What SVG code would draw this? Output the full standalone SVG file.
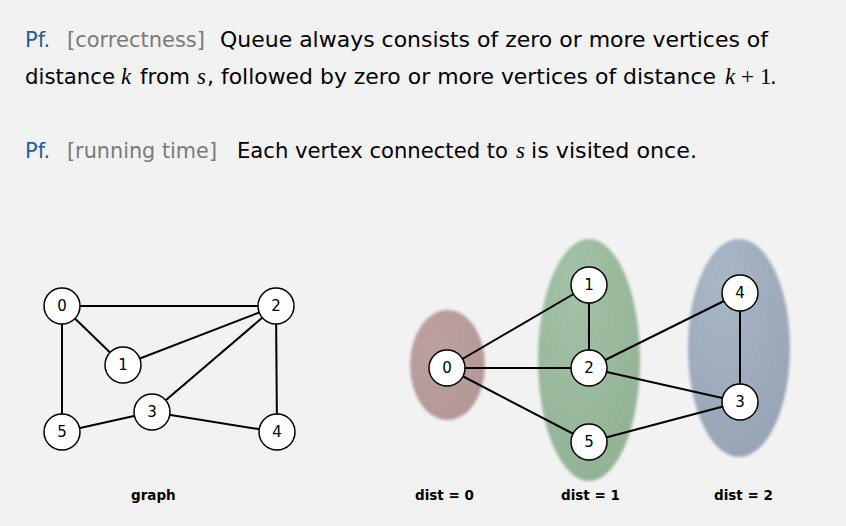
<svg xmlns="http://www.w3.org/2000/svg" width="846" height="526" viewBox="0 0 846 526">
<style>
.t{font-family:"DejaVu Sans","Noto Sans",sans-serif;font-size:21px;fill:#000}
.pf{fill:#1d5e9e}
.br{fill:#7a7a7a}
.m{font-family:"Liberation Serif","DejaVu Serif",serif;font-style:italic;font-size:23px;fill:#000}
.mr{font-family:"Liberation Serif","DejaVu Serif",serif;font-size:23px;fill:#000}
.e{stroke:#000;stroke-width:2;fill:none}
.n circle{fill:#fff;stroke:#000;stroke-width:1.5}
.n text{font-family:"DejaVu Sans",sans-serif;font-size:15px;text-anchor:middle;fill:#000}
.cap{font-family:"DejaVu Sans",sans-serif;font-weight:bold;font-size:13.5px;fill:#000}
</style>
<defs>
<filter id="soft" x="-20%" y="-20%" width="140%" height="140%"><feGaussianBlur stdDeviation="1.5"/></filter>
<radialGradient id="gb" cx="35%" cy="30%" r="75%"><stop offset="0" stop-color="#bda1a1"/><stop offset="1" stop-color="#b49797"/></radialGradient>
<radialGradient id="gg" cx="35%" cy="20%" r="80%"><stop offset="0" stop-color="#a2c1a6"/><stop offset="1" stop-color="#93b397"/></radialGradient>
<radialGradient id="gl" cx="35%" cy="20%" r="80%"><stop offset="0" stop-color="#a8b6c6"/><stop offset="1" stop-color="#97a5b7"/></radialGradient>
</defs>
<rect width="846" height="526" fill="#f2f2f2"/>

<g id="text">
<text class="t pf" x="25" y="47">Pf.</text>
<text class="t br" x="67" y="47" textLength="138" lengthAdjust="spacingAndGlyphs">[correctness]</text>
<text class="t" x="220" y="47" textLength="548" lengthAdjust="spacingAndGlyphs">Queue always consists of zero or more vertices of</text>
<text class="t" x="25" y="84" textLength="90" lengthAdjust="spacingAndGlyphs">distance</text>
<text class="m" x="121" y="84">k</text>
<text class="t" x="140" y="84" textLength="50" lengthAdjust="spacingAndGlyphs">from</text>
<text class="m" x="197" y="84">s</text>
<text class="t" x="207" y="84" textLength="509" lengthAdjust="spacingAndGlyphs">, followed by zero or more vertices of distance</text>
<text class="m" x="725" y="84">k</text>
<text class="mr" x="741" y="84">+</text>
<text class="mr" x="760" y="84">1</text>
<text class="t" x="770" y="84">.</text>
<text class="t pf" x="25" y="158">Pf.</text>
<text class="t br" x="67" y="158" textLength="150" lengthAdjust="spacingAndGlyphs">[running time]</text>
<text class="t" x="237" y="158" textLength="271" lengthAdjust="spacingAndGlyphs">Each vertex connected to</text>
<text class="m" x="516" y="158">s</text>
<text class="t" x="531" y="158" textLength="166" lengthAdjust="spacingAndGlyphs">is visited once.</text>
</g>

<g id="groups" filter="url(#soft)">
<ellipse cx="447.5" cy="365" rx="37.5" ry="55" fill="url(#gb)"/>
<ellipse cx="589" cy="360" rx="51" ry="121" fill="url(#gg)"/>
<ellipse cx="739" cy="348" rx="51" ry="109" fill="url(#gl)"/>
</g>

<g id="connectors">
<line class="e" x1="62" y1="306" x2="276" y2="306"/>
<line class="e" x1="62" y1="306" x2="123" y2="365"/>
<line class="e" x1="62" y1="306" x2="62" y2="432"/>
<line class="e" x1="123" y1="365" x2="276" y2="306"/>
<line class="e" x1="276" y1="306" x2="152" y2="412"/>
<line class="e" x1="276" y1="306" x2="277" y2="432"/>
<line class="e" x1="152" y1="412" x2="62" y2="432"/>
<line class="e" x1="152" y1="412" x2="277" y2="432"/>
<line class="e" x1="447" y1="368" x2="589" y2="285"/>
<line class="e" x1="447" y1="368" x2="589" y2="368"/>
<line class="e" x1="447" y1="368" x2="589" y2="442"/>
<line class="e" x1="589" y1="285" x2="589" y2="368"/>
<line class="e" x1="589" y1="368" x2="740" y2="293"/>
<line class="e" x1="589" y1="368" x2="740" y2="402"/>
<line class="e" x1="589" y1="442" x2="740" y2="402"/>
<line class="e" x1="740" y1="293" x2="740" y2="402"/>
</g>

<g id="a0" class="n"><circle cx="62" cy="306" r="18"/><text x="62" y="311">0</text></g>
<g id="a1" class="n"><circle cx="123" cy="365" r="18"/><text x="123" y="370">1</text></g>
<g id="a2" class="n"><circle cx="276" cy="306" r="18"/><text x="276" y="311">2</text></g>
<g id="a3" class="n"><circle cx="152" cy="412" r="18"/><text x="152" y="417">3</text></g>
<g id="a4" class="n"><circle cx="277" cy="432" r="18"/><text x="277" y="437">4</text></g>
<g id="a5" class="n"><circle cx="62" cy="432" r="18"/><text x="62" y="437">5</text></g>

<g id="b0" class="n"><circle cx="447" cy="368" r="18"/><text x="447" y="373">0</text></g>
<g id="b1" class="n"><circle cx="589" cy="285" r="18"/><text x="589" y="290">1</text></g>
<g id="b2" class="n"><circle cx="589" cy="368" r="18"/><text x="589" y="373">2</text></g>
<g id="b5" class="n"><circle cx="589" cy="442" r="18"/><text x="589" y="447">5</text></g>
<g id="b4" class="n"><circle cx="740" cy="293" r="18"/><text x="740" y="298">4</text></g>
<g id="b3" class="n"><circle cx="740" cy="402" r="18"/><text x="740" y="407">3</text></g>

<g id="captions">
<text class="cap" x="131" y="500">graph</text>
<text class="cap" x="415" y="500">dist = 0</text>
<text class="cap" x="561" y="500">dist = 1</text>
<text class="cap" x="714" y="500">dist = 2</text>
</g>
</svg>
